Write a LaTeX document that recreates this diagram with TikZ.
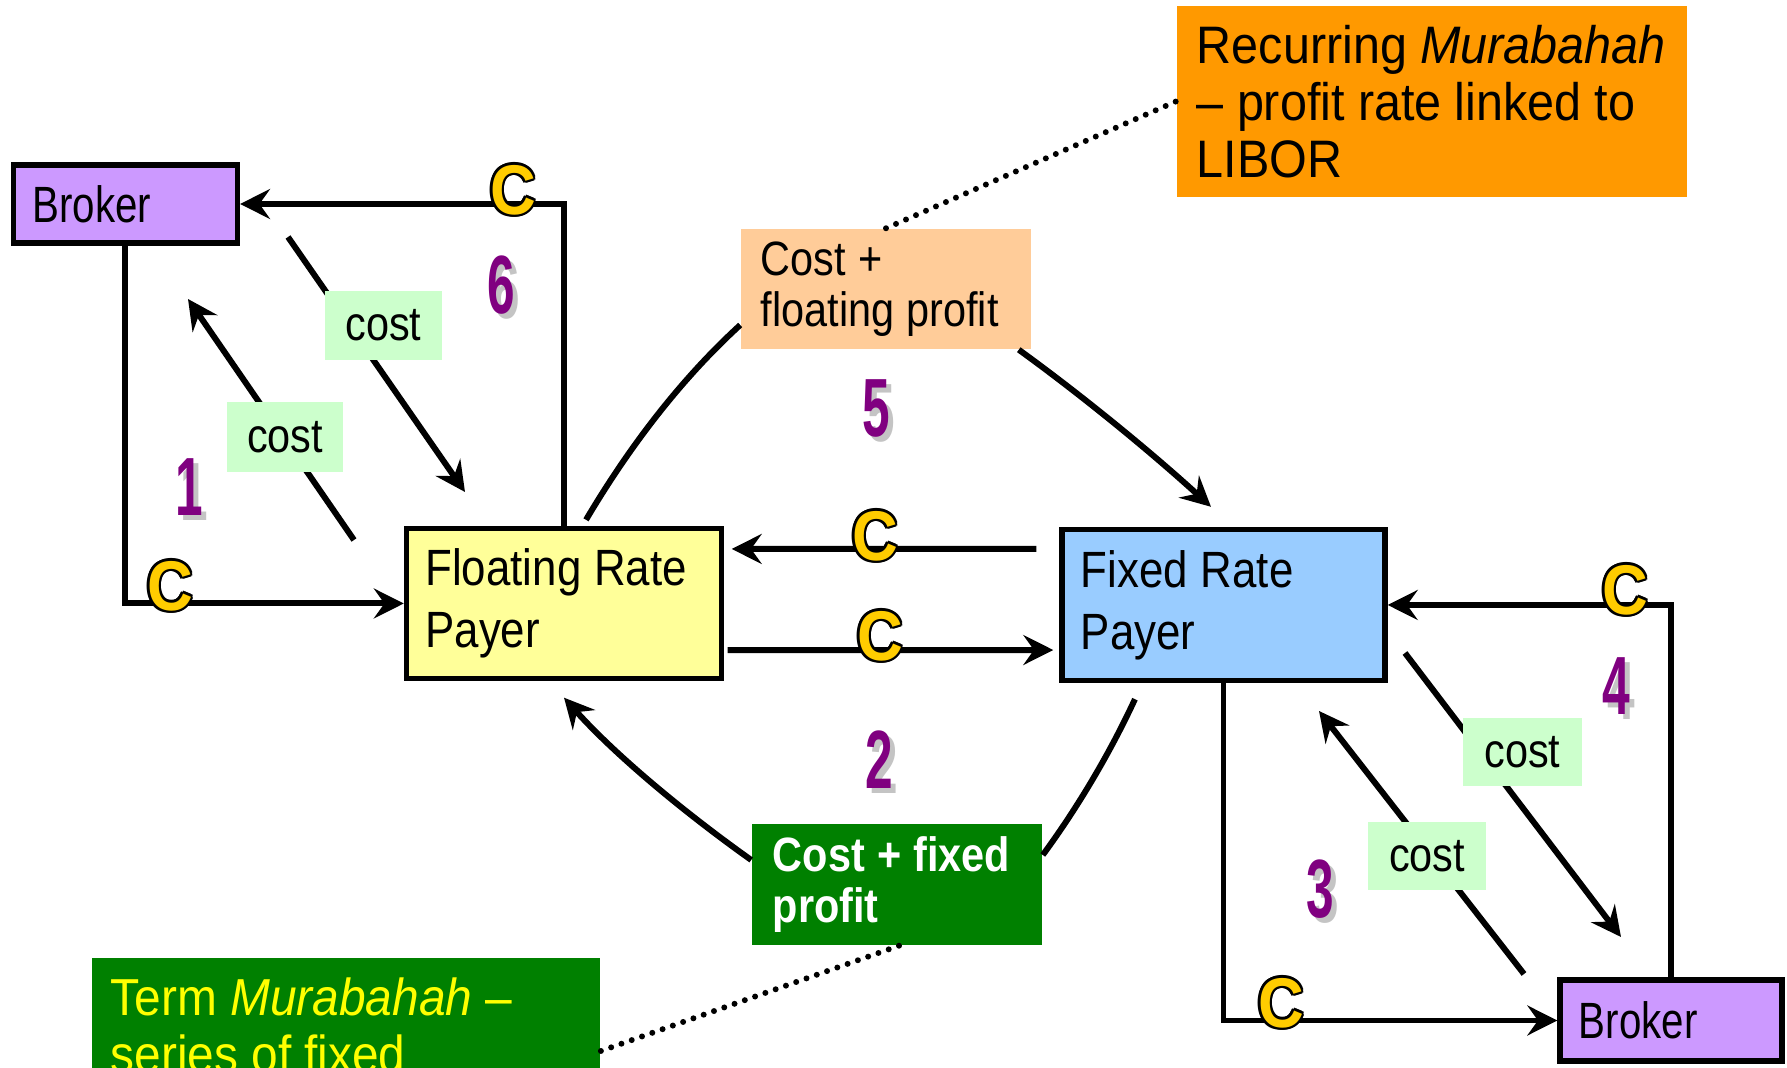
\documentclass[tikz,border=0pt]{standalone}
\usepackage{fontspec}
\setmainfont[FakeStretch=0.86]{Liberation Sans}
\newfontfamily\notefont[FakeStretch=0.92]{Liberation Sans}
\newfontfamily\brokerfont[FakeStretch=0.79]{Liberation Sans}
\newfontfamily\digitfont[FakeStretch=0.6]{Liberation Sans}
\newfontfamily\markfont[FakeStretch=0.9]{Liberation Sans}
\usetikzlibrary{arrows.meta}

% narrow interword space for the condensed text
\newcommand\tsp{\spaceskip=0.25em\relax}

\definecolor{brokerfill}{HTML}{CC99FF}
\definecolor{floatfill}{HTML}{FFFF99}
\definecolor{fixfill}{HTML}{99CCFF}
\definecolor{orangefill}{HTML}{FF9900}
\definecolor{peachfill}{HTML}{FFCC99}
\definecolor{darkgreen}{HTML}{008000}
\definecolor{costfill}{HTML}{CCFFCC}
\definecolor{markyellow}{HTML}{FFCC00}
\definecolor{termyellow}{HTML}{FFFF00}
\definecolor{steppurple}{HTML}{800080}
\definecolor{shadowgrey}{HTML}{C4C4C4}

% a yellow "C" with a thin black outline
\newcommand\cashmark[2]{%
  \foreach \k in {0,30,...,330}{%
    \node[markstyle, text=black, shift={(\k:0.7pt)}] (#1-\k) at #2 {C};}
  \node[markstyle] (#1) at #2 {C};}

% a purple step number with a grey drop shadow
\newcommand\stepnumber[3]{%
  \node[numstyle, text=shadowgrey, xshift=0.05cm, yshift=-0.05cm] (#1s) at #2 {#3};
  \node[numstyle] (#1) at #2 {#3};}

\begin{document}
\begin{tikzpicture}[x=0.01cm, y=-0.01cm,
  box/.style={draw=black, line width=1.5pt, inner xsep=0.19cm, inner ysep=0pt,
    align=left, font=\fontsize{14.5}{17.6}\selectfont},
  note/.style={inner ysep=0pt, align=left},
  wire/.style={draw=black, line width=1.7pt},
  arr/.style={wire, -{Stealth[length=8.5pt,width=8.5pt,inset=3pt]}},
  dots/.style={draw=black, line width=1.7pt, line cap=round, dash pattern=on 0pt off 3.1pt},
  cost/.style={fill=costfill, inner sep=0pt, font=\fontsize{13.7}{15}\selectfont},
  numstyle/.style={text=steppurple, inner sep=0pt, font=\digitfont\bfseries\fontsize{23.5}{24}\selectfont},
  markstyle/.style={text=markyellow, inner sep=0pt, font=\markfont\bfseries\fontsize{20}{20}\selectfont},
]
\useasboundingbox (0,0) rectangle (1787,1068);
\clip (0,0) rectangle (1787,1068);

% parties
\node[box, fill=brokerfill, text width=1.86cm, minimum height=0.78cm, font=\brokerfont\fontsize{14.5}{17.6}\selectfont] (b1) at (125.4,204) {Broker};
\node[box, fill=floatfill, text width=2.77cm, minimum height=1.50cm] (fl) at (564,603.5) {\tsp Floating Rate\\Payer};
\node[box, fill=fixfill, text width=2.85cm, minimum height=1.51cm] (fx) at (1223.5,605) {\tsp Fixed Rate\\Payer};
\node[box, fill=brokerfill, text width=1.84cm, minimum height=0.81cm, font=\brokerfont\fontsize{14.5}{17.6}\selectfont] (b2) at (1671,1020.5) {Broker};

% explanatory boxes
\node[note, fill=orangefill, text width=4.70cm, inner xsep=0.2cm, minimum height=1.91cm,
  font=\notefont\fontsize{15}{16.2}\selectfont] (rec) at (1432,101.4)
  {\tsp\mbox{Recurring \textit{Murabahah}}\\\mbox{– profit rate linked to}\\LIBOR};
\node[note, fill=peachfill, text width=2.50cm, inner xsep=0.2cm, minimum height=1.20cm,
  font=\fontsize{13.7}{14.4}\selectfont] (pc) at (886,289) {\tsp Cost +\\\mbox{floating profit}};
\node[note, fill=darkgreen, text=white, text width=2.48cm, inner xsep=0.21cm, minimum height=1.21cm,
  font=\bfseries\fontsize{13.7}{14.6}\selectfont] (gc) at (897,884.5) {\tsp\mbox{Cost + fixed}\\profit};
\node[note, fill=darkgreen, text=termyellow, anchor=north west, text width=4.70cm,
  inner xsep=0.19cm, inner ysep=0.2cm, font=\notefont\fontsize{14.8}{16.2}\selectfont] (tm) at (91,957)
  {\tsp\mbox{Term \textit{Murabahah} –}\\series of fixed};

% broker loops
\draw[arr] (b1.south) |- (fl.west);
\draw[arr] (fl.north) |- (b1.east);
\draw[arr] (fx.south) |- (b2.west);
\draw[arr] (b2.north) |- (fx.east);

% payments between the two payers
\draw[arr] ([xshift=-0.23cm,yshift=0.56cm]fx.west) -- ([xshift=0.075cm,yshift=0.545cm]fl.east);
\draw[arr] ([xshift=0.035cm,yshift=-0.465cm]fl.east) -- ([xshift=-0.06cm,yshift=-0.45cm]fx.west);

% murabahah sales
\draw[wire] ([xshift=0.22cm,yshift=0.06cm]fl.north) .. controls (628,449) and (679,381) .. ([yshift=-0.36cm]pc.west);
\draw[arr] ([xshift=-0.13cm]pc.south east) .. controls (1084,397) and (1152,453) .. ([xshift=-0.125cm,yshift=0.2cm]fx.north);
\draw[wire] ([xshift=-0.885cm,yshift=-0.16cm]fx.south) .. controls (1110,753) and (1078,807) .. ([yshift=0.295cm]gc.east);
\draw[arr] ([yshift=0.245cm]gc.west) .. controls (686.5,814) and (616.5,756.4) .. ([yshift=-0.165cm]fl.south);

% commodity deliveries at cost
\coordinate (d6a) at (288,237);  \coordinate (d6b) at (465,492);
\coordinate (d1a) at (354,540);  \coordinate (d1b) at (188,299);
\coordinate (d4a) at (1405,653); \coordinate (d4b) at (1621,937);
\coordinate (d3a) at (1524,974); \coordinate (d3b) at (1319,711);
\draw[arr] (d6a) -- (d6b);
\draw[arr] (d1a) -- (d1b);
\draw[arr] (d4a) -- (d4b);
\draw[arr] (d3a) -- (d3b);
\node[cost, minimum width=1.17cm, minimum height=0.69cm] (c6) at (383.5,325.5) {cost};
\node[cost, minimum width=1.16cm, minimum height=0.70cm] (c1) at (285,437) {cost};
\node[cost, minimum width=1.19cm, minimum height=0.68cm] (c4) at (1522.5,752) {cost};
\node[cost, minimum width=1.18cm, minimum height=0.68cm] (c3) at (1427,856) {cost};

% callouts
\draw[dots] (pc.north) -- (rec.west);
\draw[dots] ([xshift=0.02cm]gc.south) -- ([yshift=-0.94cm]tm.north east);

% cash marks
\cashmark{k6}{(513,190)}
\cashmark{k1}{(170,586)}
\cashmark{k5a}{(875,536)}
\cashmark{k5b}{(880,636)}
\cashmark{k3}{(1281,1003)}
\cashmark{k4}{(1625,590)}

% step numbers
\stepnumber{n6}{(501,285)}{6}
\stepnumber{n1}{(189,487)}{1}
\stepnumber{n5}{(876,408)}{5}
\stepnumber{n2}{(879,760)}{2}
\stepnumber{n3}{(1320,889)}{3}
\stepnumber{n4}{(1616,686)}{4}
\end{tikzpicture}
\end{document}
